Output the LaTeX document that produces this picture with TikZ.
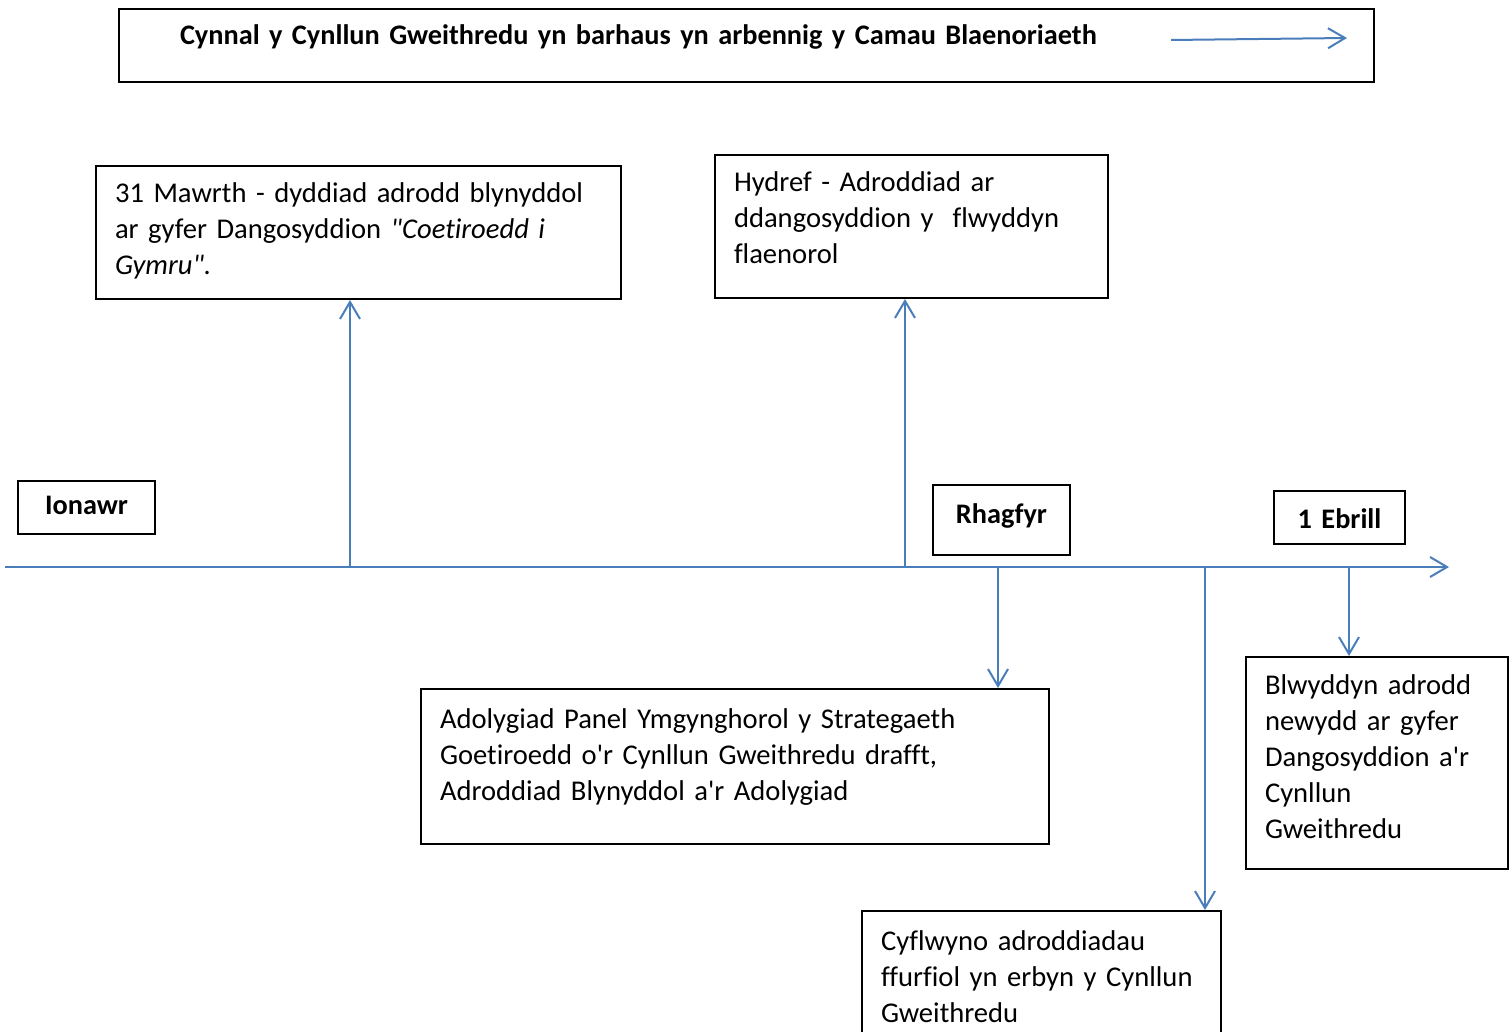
\documentclass[tikz,border=0pt]{standalone}
\usepackage{fontspec}
\setmainfont{Carlito}[Ligatures={NoCommon}]
\usetikzlibrary{arrows.meta}
\definecolor{linienblau}{RGB}{74,126,187}

\begin{document}
\begin{tikzpicture}[x=1pt,y=-1pt,
		kasten/.style={draw=black, line width=2pt, anchor=north west, inner ysep=0pt, inner xsep=19pt, align=left, font=\fontsize{28.6}{36}\selectfont},
		monat/.style={draw=black, line width=2pt, anchor=north west, inner ysep=0pt, inner xsep=19pt, align=center, font=\fontsize{28.3}{34}\selectfont\bfseries},
		pfeil/.style={linienblau, line width=2pt, -{Straight Barb[length=17pt,width=20pt,line width=2pt]}}]
		
		\useasboundingbox (0,0) rectangle (1509,1032);
		
		% Kopfzeile
		\node[monat, align=left, inner xsep=61pt, text width=1133pt, text height=36pt, text depth=37pt] (titel) at (118,8) {Cynnal y Cynllun Gweithredu yn barhaus yn arbennig y Camau Blaenoriaeth};
		\coordinate (t0) at (1171,40);
		\coordinate (t1) at (1347,38);
		\draw[pfeil] (t0) -- (t1);
		
		% Zeitachse
		\coordinate (z0) at (5,567);
		\coordinate (z1) at (1449,567);
		\draw[pfeil] (z0) -- (z1);
		
		% Monate
		\node[monat, text width=99pt, text height=33pt, text depth=20pt] (ionawr) at (17,480) {Ionawr};
		\node[monat, text width=99pt, text height=38pt, text depth=32pt] (rhagfyr) at (932,484) {Rhagfyr};
		\node[monat, text width=93pt, text height=37pt, text depth=16pt] (ebrill) at (1273,490) {1 Ebrill};
		
		% Kaesten oben
		\node[kasten, text width=487pt, text height=37pt, text depth=96pt] (mawrth) at (95,165) {31 Mawrth - dyddiad adrodd blynyddol\\ar gyfer Dangosyddion \textit{\textquotedbl Coetiroedd i}\\\textit{Gymru\textquotedbl.}};
		\node[kasten, text width=355pt, text height=37pt, text depth=106pt] (hydref) at (714,154) {Hydref - Adroddiad ar\\ddangosyddion y\ \ flwyddyn\\flaenorol};
		
		% Kaesten unten
		\node[kasten, text width=590pt, text height=39pt, text depth=116pt] (panel) at (420,688) {Adolygiad Panel Ymgynghorol y Strategaeth\\Goetiroedd o\textquotesingle r Cynllun Gweithredu drafft,\\Adroddiad Blynyddol a\textquotesingle r Adolygiad};
		\node[kasten, text width=224pt, text height=37pt, text depth=175pt] (blwyddyn) at (1245,656) {Blwyddyn adrodd\\newydd ar gyfer\\Dangosyddion a\textquotesingle r\\Cynllun\\Gweithredu};
		\node[kasten, text width=321pt, text height=39pt, text depth=121pt] (cyflwyno) at (861,910) {Cyflwyno adroddiadau\\ffurfiol yn erbyn y Cynllun\\Gweithredu};
		
		% Pfeile nach oben
		\coordinate (p1) at (350,567);
		\coordinate (p2) at (905,567);
		\draw[pfeil] (p1) -- (p1 |- mawrth.south);
		\draw[pfeil] (p2) -- (p2 |- hydref.south);
		
		% Pfeile nach unten
		\coordinate (p3) at (998,567);
		\coordinate (p4) at (1205,567);
		\coordinate (p5) at (1349,567);
		\draw[pfeil] (p3) -- (p3 |- panel.north);
		\draw[pfeil] (p4) -- (p4 |- cyflwyno.north);
		\draw[pfeil] (p5) -- (p5 |- blwyddyn.north);
		
	\end{tikzpicture}
\end{document}
